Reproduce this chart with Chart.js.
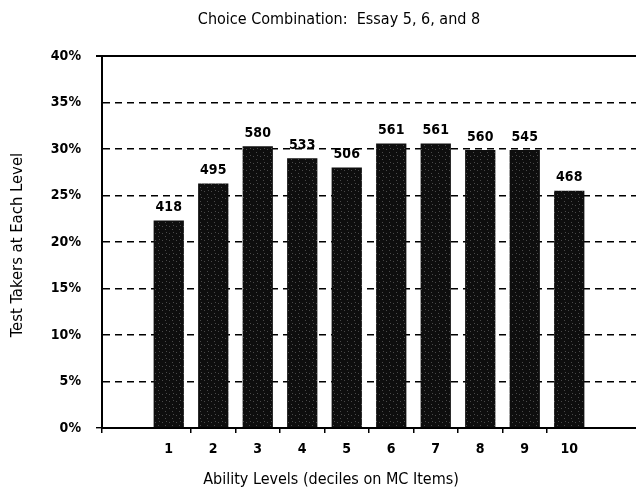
<!DOCTYPE html>
<html>
<head>
<meta charset="utf-8">
<title>Choice Combination: Essay 5, 6, and 8</title>
<script src="https://cdn.jsdelivr.net/npm/chart.js@4.4.1/dist/chart.umd.min.js"></script>
<style>
  html, body { margin: 0; padding: 0; background: #fff; }
  #chart { display: block; }
</style>
</head>
<body>
<canvas id="chart" width="636" height="496"></canvas>
<script>
// ability deciles, share of test takers (%) and head counts printed over each bar
const levels = ['1', '2', '3', '4', '5', '6', '7', '8', '9', '10'];
const shares = [22.3, 26.3, 30.3, 29.0, 28.0, 30.6, 30.6, 29.9, 29.9, 25.5];
const counts = [418, 495, 580, 533, 506, 561, 561, 560, 545, 468];
const yTicks = [0, 5, 10, 15, 20, 25, 30, 35, 40];

const narrow = "'Liberation Sans Narrow', 'DejaVu Sans Condensed', 'Roboto', sans-serif";

// dark speckled fill for the bars
const tile = document.createElement('canvas');
tile.width = 7;
tile.height = 7;
const tctx = tile.getContext('2d');
tctx.fillStyle = '#0e0e0e';
tctx.fillRect(0, 0, 7, 7);
tctx.fillStyle = '#4a4a4a';
tctx.fillRect(1, 2, 1, 1);
tctx.fillRect(4, 5, 1, 1);
tctx.fillRect(5, 1, 1, 1);
const barFill = tctx.createPattern(tile, 'repeat');

// one empty slot either side of the deciles
const labels = [''].concat(levels, ['']);
const values = [null].concat(shares, [null]);
const labelCounts = [null].concat(counts, [null]);

const barLabels = {
  id: 'barLabels',
  afterDatasetsDraw(chart) {
    const ctx = chart.ctx;
    const meta = chart.getDatasetMeta(0);
    ctx.save();
    ctx.fillStyle = '#000';
    ctx.font = 'bold 14px ' + narrow;
    ctx.textAlign = 'center';
    ctx.textBaseline = 'bottom';
    meta.data.forEach((bar, i) => {
      if (labelCounts[i] == null) return;
      ctx.fillText(String(labelCounts[i]), bar.x, bar.y - 6);
    });
    ctx.restore();
  }
};

const captions = {
  id: 'captions',
  afterDraw(chart) {
    const ctx = chart.ctx;
    ctx.save();
    ctx.fillStyle = '#000';
    ctx.textAlign = 'center';
    ctx.textBaseline = 'middle';
    ctx.font = '16px ' + narrow;
    ctx.fillText('Choice Combination:  Essay 5, 6, and 8', 339, 20);
    ctx.fillText('Ability Levels (deciles on MC Items)', 331, 480);
    ctx.font = '16.5px ' + narrow;
    ctx.translate(18, 245);
    ctx.rotate(-Math.PI / 2);
    ctx.fillText('Test Takers at Each Level', 0, 0);
    ctx.restore();
  }
};

new Chart(document.getElementById('chart'), {
  type: 'bar',
  data: {
    labels: labels,
    datasets: [{
      data: values,
      backgroundColor: barFill,
      borderWidth: 0,
      barPercentage: 0.68,
      categoryPercentage: 1
    }]
  },
  options: {
    responsive: false,
    animation: false,
    layout: { padding: { top: 56, left: 0, right: 0, bottom: 0 } },
    plugins: {
      legend: { display: false },
      title: { display: false },
      tooltip: { enabled: false }
    },
    scales: {
      x: {
        afterFit: s => { s.height = 68; },
        grid: {
          offset: true,
          drawOnChartArea: false,
          tickLength: 5,
          lineWidth: 1.5,
          color: c => (c.index === 0 || (c.index >= 2 && c.index <= 10)) ? '#000' : 'rgba(0,0,0,0)'
        },
        border: { display: true, color: '#000', width: 2 },
        ticks: {
          color: '#000',
          padding: 8,
          maxRotation: 0,
          autoSkip: false,
          font: { family: narrow, size: 14, weight: 'bold' }
        }
      },
      y: {
        min: 0,
        max: 40,
        afterFit: s => { s.width = 102; },
        afterBuildTicks: s => { s.ticks = yTicks.map(v => ({ value: v })); },
        grid: {
          color: '#000',
          lineWidth: c => c.tick && c.tick.value === 40 ? 2 : 1.4,
          tickLength: 6,
          tickColor: c => c.tick && (c.tick.value === 0 || c.tick.value === 40) ? '#000' : 'rgba(0,0,0,0)'
        },
        border: {
          display: true,
          color: '#000',
          width: 2,
          dash: c => c.tick && (c.tick.value === 0 || c.tick.value === 40) ? [] : [7, 5]
        },
        ticks: {
          color: '#000',
          padding: 15,
          callback: v => v + '%',
          font: { family: narrow, size: 14, weight: 'bold' }
        }
      }
    }
  },
  plugins: [barLabels, captions]
});
</script>
</body>
</html>
